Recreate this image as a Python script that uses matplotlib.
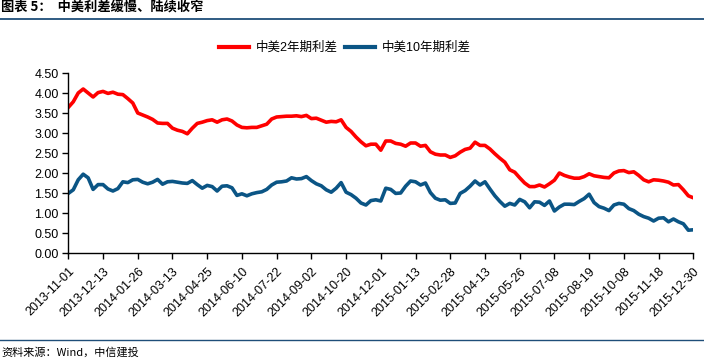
"""中美利差缓慢、陆续收窄 -- recreated line chart"""

import numpy as np
import matplotlib
matplotlib.use('Agg')
import matplotlib.pyplot as plt
from matplotlib.lines import Line2D

plt.rcParams['font.family'] = ['Liberation Sans', 'Noto Sans CJK SC', 'DejaVu Sans']

# tick labels (one every 7 samples)
tick_labels = ['2013-11-01', '2013-12-13', '2014-01-26', '2014-03-13', '2014-04-25',
               '2014-06-10', '2014-07-22', '2014-09-02', '2014-10-20', '2014-12-01',
               '2015-01-13', '2015-02-28', '2015-04-13', '2015-05-26', '2015-07-08',
               '2015-08-19', '2015-10-08', '2015-11-18', '2015-12-30']

# 中美2年期利差 (%)
spread_2y = [3.64, 3.78, 4.00, 4.10, 4.00, 3.90, 4.01, 4.04, 3.99, 4.02,
             3.97, 3.96, 3.86, 3.75, 3.50, 3.45, 3.40, 3.34, 3.25, 3.24,
             3.24, 3.12, 3.07, 3.04, 2.98, 3.12, 3.24, 3.27, 3.31, 3.33,
             3.27, 3.33, 3.35, 3.30, 3.20, 3.14, 3.13, 3.14, 3.14, 3.18,
             3.22, 3.35, 3.40, 3.41, 3.42, 3.42, 3.43, 3.41, 3.44, 3.36,
             3.37, 3.32, 3.27, 3.29, 3.28, 3.33, 3.14, 3.04, 2.90, 2.78,
             2.68, 2.72, 2.72, 2.57, 2.80, 2.80, 2.74, 2.72, 2.67, 2.75,
             2.75, 2.67, 2.69, 2.53, 2.47, 2.45, 2.45, 2.39, 2.43, 2.52,
             2.59, 2.62, 2.77, 2.69, 2.69, 2.60, 2.48, 2.37, 2.27, 2.08,
             2.02, 1.88, 1.75, 1.66, 1.66, 1.70, 1.65, 1.73, 1.82, 2.00,
             1.94, 1.90, 1.87, 1.87, 1.91, 1.98, 1.93, 1.91, 1.89, 1.88,
             2.00, 2.05, 2.06, 2.01, 2.03, 1.94, 1.83, 1.78, 1.83, 1.82,
             1.80, 1.77, 1.70, 1.71, 1.58, 1.43, 1.38]

# 中美10年期利差 (%)
spread_10y = [1.49, 1.58, 1.83, 1.97, 1.88, 1.59, 1.71, 1.71, 1.60, 1.55,
              1.61, 1.78, 1.76, 1.83, 1.84, 1.77, 1.73, 1.77, 1.84, 1.72,
              1.78, 1.79, 1.77, 1.75, 1.74, 1.81, 1.71, 1.62, 1.69, 1.66,
              1.55, 1.67, 1.68, 1.63, 1.44, 1.48, 1.43, 1.48, 1.51, 1.53,
              1.59, 1.70, 1.77, 1.78, 1.80, 1.88, 1.85, 1.86, 1.91, 1.81,
              1.73, 1.68, 1.58, 1.52, 1.62, 1.76, 1.52, 1.46, 1.37, 1.25,
              1.20, 1.31, 1.33, 1.30, 1.62, 1.59, 1.49, 1.50, 1.67, 1.80,
              1.78, 1.70, 1.75, 1.51, 1.37, 1.32, 1.33, 1.24, 1.25, 1.49,
              1.56, 1.67, 1.80, 1.70, 1.78, 1.60, 1.43, 1.29, 1.17, 1.24,
              1.20, 1.34, 1.28, 1.13, 1.28, 1.27, 1.19, 1.30, 1.05, 1.15,
              1.22, 1.22, 1.21, 1.29, 1.36, 1.47, 1.26, 1.16, 1.12, 1.06,
              1.20, 1.24, 1.22, 1.11, 1.06, 0.97, 0.91, 0.87, 0.80, 0.87,
              0.88, 0.78, 0.85, 0.78, 0.73, 0.57, 0.58]

series_names = ['中美2年期利差', '中美10年期利差']
series_colors = ['#FF0000', '#0B5585']
frame_color = '#1F4E79'

x = np.arange(len(spread_2y))

fig = plt.figure(figsize=(7.04, 3.61), dpi=100)
ax = fig.add_axes([68.3 / 704, 1 - 253 / 361, 625 / 704, 180 / 361])

ax.plot(x, spread_2y, color=series_colors[0], lw=2.6, solid_joinstyle='round')
ax.plot(x, spread_10y, color=series_colors[1], lw=2.6, solid_joinstyle='round')

ax.set_xlim(0, len(x) - 1)
ax.set_ylim(0, 4.5)
ax.set_yticks(np.arange(0, 4.51, 0.5))
ax.set_yticklabels(['%.2f' % v for v in np.arange(0, 4.51, 0.5)], fontsize=9)
ax.set_xticks(x[::7])
ax.set_xticklabels(tick_labels, rotation=45, ha='right', va='top',
                   rotation_mode='anchor', fontsize=9)
ax.tick_params(axis='both', direction='out', length=4, width=1, color='black', pad=3)
ax.tick_params(axis='x', pad=5)
for side in ['top', 'right']:
    ax.spines[side].set_visible(False)
for side in ['left', 'bottom']:
    ax.spines[side].set_color('black')
    ax.spines[side].set_linewidth(1)

# legend on top
handles = [Line2D([], [], color=c, lw=3) for c in series_colors]
fig.legend(handles, series_names, loc='center', bbox_to_anchor=(0.49, 1 - 48 / 361),
           ncol=2, frameon=False, fontsize=9, handlelength=2.4, handletextpad=0.5,
           columnspacing=0.6)

# title, rules and source
fig.text(0.002, 1 - 8 / 361, '图表 5：  中美利差缓慢、陆续收窄', fontsize=9.5,
         fontweight='bold', va='center', ha='left',
         family=['Noto Sans CJK SC', 'DejaVu Sans'])
fig.add_artist(Line2D([0, 1], [1 - 18.5 / 361] * 2, color=frame_color, lw=1.3))
fig.add_artist(Line2D([0, 1], [1 - 340 / 361] * 2, color=frame_color, lw=1.0))
fig.text(0.002, 1 - 352 / 361, '资料来源：Wind，中信建投', fontsize=8, style='italic',
         va='center', ha='left', family=['Noto Sans CJK SC', 'DejaVu Sans'])

fig.savefig('out.png', dpi=100)
